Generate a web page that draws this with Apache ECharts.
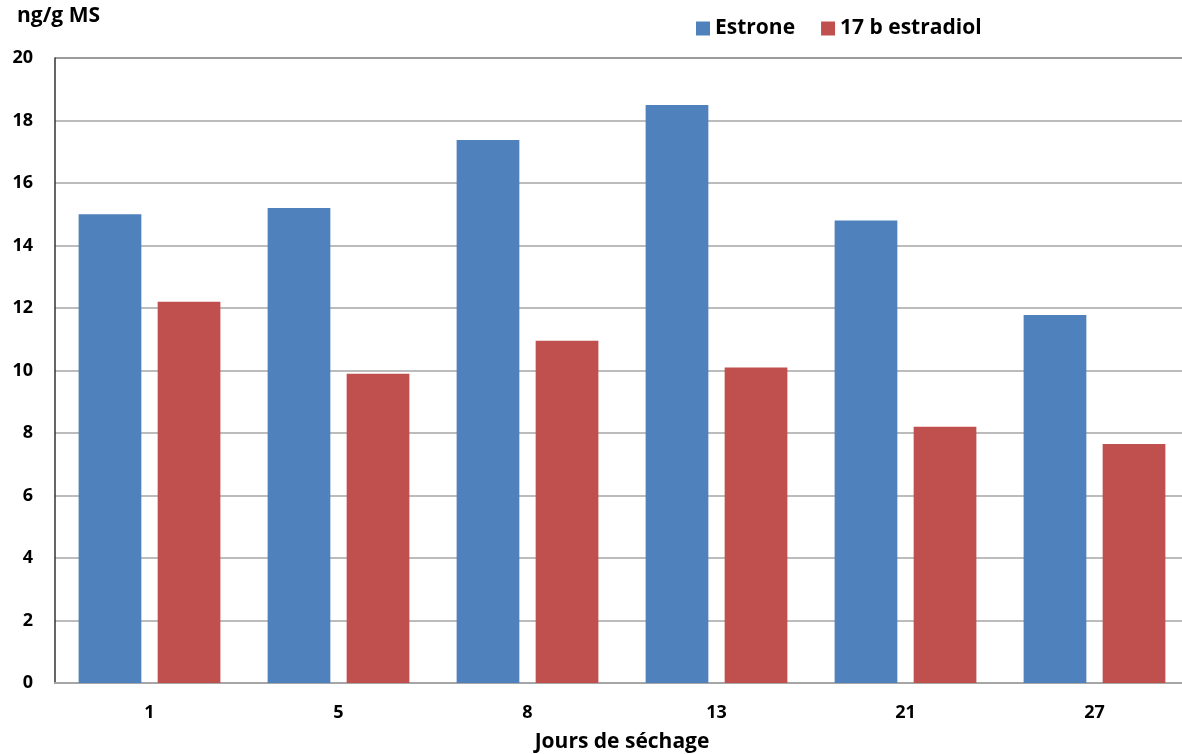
<!DOCTYPE html>
<html><head><meta charset="utf-8">
<script src="https://cdn.jsdelivr.net/npm/echarts@6/dist/echarts.min.js"></script>
<style>html,body{margin:0;padding:0;background:#fff}#c{width:1182px;height:754px}</style>
</head><body><div id="c"></div>
<script>
const categories = ['1','5','8','13','21','27'];
const estrone = [15.0, 15.2, 17.38, 18.5, 14.8, 11.78];
const estradiol = [12.2, 9.9, 10.95, 10.1, 8.2, 7.65];
const yTicks = [0,2,4,6,8,10,12,14,16,18,20];
const FONT = '"Open Sans", "Noto Sans", sans-serif';
const chart = echarts.init(document.getElementById('c'), null, {renderer:'canvas'});
chart.setOption({
  animation:false,
  textStyle:{fontFamily:FONT},
  legend:{
    top:13, left:691, itemWidth:14, itemHeight:14, itemGap:26, icon:'rect',
    textStyle:{fontFamily:FONT, fontWeight:'bold', fontSize:21, color:'#000'},
    data:['Estrone','17 b estradiol']
  },
  grid:{left:55, right:-7, top:58, bottom:71, show:false, containLabel:false, outerBoundsMode:'none'},
  graphic:[{type:'text', left:17, top:6, style:{text:'ng/g MS', font:'bold 21px '+FONT, fill:'#000'}},
           {type:'line', shape:{x1:55,y1:58,x2:1182,y2:58}, style:{stroke:'#555', lineWidth:1.5}}],
  xAxis:{
    type:'category', data:categories,
    name:'Jours de séchage', nameLocation:'middle', nameGap:49,
    nameTextStyle:{fontFamily:FONT, fontWeight:'bold', fontSize:21, color:'#000'},
    axisLine:{lineStyle:{color:'#a6a6a6', width:2}},
    axisTick:{show:false},
    axisLabel:{fontFamily:FONT, fontWeight:'bold', fontSize:18, color:'#000', margin:21}
  },
  yAxis:{
    type:'value', min:0, max:20, interval:2,
    axisLine:{show:true, lineStyle:{color:'#333', width:1.5}},
    axisTick:{show:false},
    splitLine:{lineStyle:{color:'#a6a6a6', width:1.5}},
    axisLabel:{fontFamily:FONT, fontWeight:'bold', fontSize:18, color:'#000', margin:22,
      formatter:v=>yTicks.includes(v)?String(v):''}
  },
  series:[
    {name:'Estrone', type:'bar', data:estrone, barGap:'26%', barCategoryGap:'25%',
     itemStyle:{color:'#4F81BD'}},
    {name:'17 b estradiol', type:'bar', data:estradiol,
     itemStyle:{color:'#C0504D'}}
  ]
});
</script></body></html>
